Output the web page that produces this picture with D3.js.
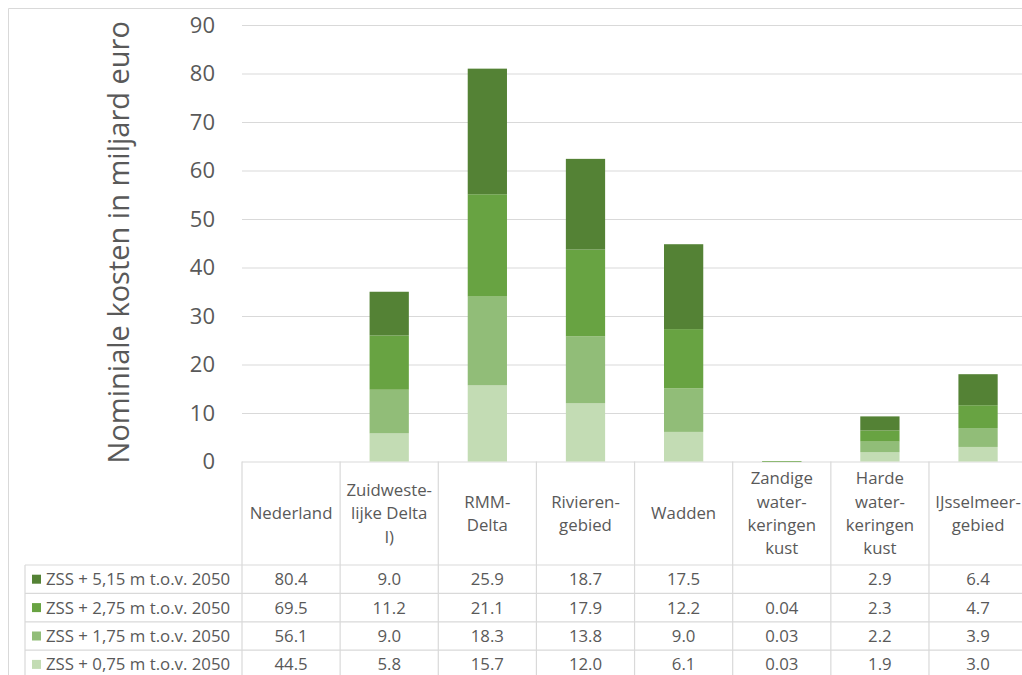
<!DOCTYPE html>
<html>
<head>
<meta charset="utf-8">
<script src="https://cdn.jsdelivr.net/npm/d3@7"></script>
<style>
  body { margin: 0; background: #fff; }
  svg { display: block; font-family: "Open Sans", "Noto Sans", sans-serif; }
  text { fill: #595959; }
</style>
</head>
<body>
<script>
// categories (header lines of the table)
var categories = ["Nederland", "Zuidwestelijke Delta", "RMM-Delta", "Rivierengebied", "Wadden",
  "Zandige waterkeringen kust", "Harde waterkeringen kust", "IJsselmeergebied"];
var headerLines = [
  ["Nederland"],
  ["Zuidweste-", "lijke Delta", "I)"],
  ["RMM-", "Delta"],
  ["Rivieren-", "gebied"],
  ["Wadden"],
  ["Zandige", "water-", "keringen", "kust"],
  ["Harde", "water-", "keringen", "kust"],
  ["IJsselmeer-", "gebied"]
];
// Nederland is only shown in the table, not as a bar
var plotted = [false, true, true, true, true, true, true, true];

var seriesNames = ["ZSS + 0,75 m t.o.v. 2050", "ZSS + 1,75 m t.o.v. 2050",
  "ZSS + 2,75 m t.o.v. 2050", "ZSS + 5,15 m t.o.v. 2050"];
var zss075 = [44.5, 5.8, 15.7, 12.0, 6.1, 0.03, 1.9, 3.0];
var zss175 = [56.1, 9.0, 18.3, 13.8, 9.0, 0.03, 2.2, 3.9];
var zss275 = [69.5, 11.2, 21.1, 17.9, 12.2, 0.04, 2.3, 4.7];
var zss515 = [80.4, 9.0, 25.9, 18.7, 17.5, null, 2.9, 6.4];
var labels075 = ["44.5", "5.8", "15.7", "12.0", "6.1", "0.03", "1.9", "3.0"];
var labels175 = ["56.1", "9.0", "18.3", "13.8", "9.0", "0.03", "2.2", "3.9"];
var labels275 = ["69.5", "11.2", "21.1", "17.9", "12.2", "0.04", "2.3", "4.7"];
var labels515 = ["80.4", "9.0", "25.9", "18.7", "17.5", "", "2.9", "6.4"];
var yTicks = [0, 10, 20, 30, 40, 50, 60, 70, 80, 90];

var colors = ["#c3dcb4", "#91bd78", "#68a342", "#548235"];

var W = 1022, H = 675;
var left = 242, colW = 98.14;
var yTop = 25, yBottom = 461.5;
var rowTop = 565, rowH = 28.4;
var grid = "#d9d9d9";
var cellFont = 16.8;

var svg = d3.select("body").append("svg").attr("width", W).attr("height", H);

var x = d3.scaleBand()
  .domain(categories)
  .range([left, left + colW * categories.length])
  .paddingInner(0.6)
  .paddingOuter(0.3);

var col = d3.scaleBand()
  .domain(categories)
  .range([left, left + colW * categories.length]);

var y = d3.scaleLinear().domain([0, 90]).range([yBottom, yTop]);

// outer border
svg.append("path")
  .attr("d", "M8.5," + H + "V8.5H" + W)
  .attr("fill", "none").attr("stroke", grid);

// gridlines
svg.append("g")
  .attr("transform", "translate(" + left + ",0)")
  .call(d3.axisLeft(y).tickValues(yTicks).tickSize(-(W - left)).tickFormat(""))
  .call(function(g) {
    g.select(".domain").remove();
    g.selectAll("line").attr("stroke", grid).attr("stroke-width", 1.2);
  });

// tick labels
svg.append("g")
  .attr("transform", "translate(" + left + ",0)")
  .call(d3.axisLeft(y).tickValues(yTicks).tickSize(0).tickPadding(27))
  .call(function(g) {
    g.select(".domain").remove();
    g.selectAll("text").attr("font-size", 22).attr("fill", "#595959")
      .attr("font-family", "Open Sans, sans-serif");
  });

// y title
svg.append("text")
  .attr("transform", "translate(129," + ((yTop + yBottom) / 2 - 1) + ") rotate(-90)")
  .attr("text-anchor", "middle")
  .attr("font-size", 29)
  .text("Nominiale kosten in miljard euro");

// stacked bars
var rows = categories.map(function(c, i) {
  return { cat: c, s0: zss075[i], s1: zss175[i], s2: zss275[i], s3: zss515[i] || 0, show: plotted[i] };
});
var stack = d3.stack().keys(["s0", "s1", "s2", "s3"]);
var layers = stack(rows.filter(function(d) { return d.show; }));

svg.append("g").selectAll("g")
  .data(layers)
  .enter().append("g")
  .attr("fill", function(d, i) { return colors[i]; })
  .selectAll("rect")
  .data(function(d) { return d.filter(function(s) { return s[1] - s[0] > 0; }); })
  .enter().append("rect")
  .attr("x", function(d) { return x(d.data.cat); })
  .attr("width", x.bandwidth())
  .attr("y", function(d) { return y(d[1]); })
  .attr("height", function(d) { return Math.max(y(d[0]) - y(d[1]), 0.5); });

// table
var nRows = seriesNames.length;
var tableBottom = H + 5;
var tg = svg.append("g").attr("fill", "none").attr("stroke", grid).attr("stroke-width", 1.2);

// vertical lines of columns
categories.forEach(function(c) {
  tg.append("line").attr("x1", col(c)).attr("x2", col(c)).attr("y1", yBottom).attr("y2", tableBottom);
});
tg.append("line").attr("x1", col(categories[7]) + colW).attr("x2", col(categories[7]) + colW)
  .attr("y1", yBottom).attr("y2", tableBottom);
// legend column left edge
tg.append("line").attr("x1", 25).attr("x2", 25).attr("y1", rowTop).attr("y2", tableBottom);
// horizontal lines
for (var r = 0; r <= nRows; r++) {
  tg.append("line").attr("x1", 25).attr("x2", W).attr("y1", rowTop + r * rowH).attr("y2", rowTop + r * rowH);
}

// header cells
var hdr = svg.append("g").attr("font-size", cellFont).attr("text-anchor", "middle");
headerLines.forEach(function(lines, i) {
  var cx = col(categories[i]) + colW / 2;
  var lh = 23.4;
  var mid = (yBottom + rowTop) / 2 + 6;
  lines.forEach(function(l, j) {
    hdr.append("text")
      .attr("x", cx)
      .attr("y", mid + (j - (lines.length - 1) / 2) * lh)
      .text(l);
  });
});

// value rows, top row = highest scenario
var tableRows = [
  { name: seriesNames[3], color: colors[3], labels: labels515 },
  { name: seriesNames[2], color: colors[2], labels: labels275 },
  { name: seriesNames[1], color: colors[1], labels: labels175 },
  { name: seriesNames[0], color: colors[0], labels: labels075 }
];
var vg = svg.append("g").attr("font-size", cellFont);
tableRows.forEach(function(row, r) {
  var cy = rowTop + r * rowH + rowH / 2;
  vg.append("rect").attr("x", 32).attr("y", cy - 4.5).attr("width", 9).attr("height", 9)
    .attr("fill", row.color);
  vg.append("text").attr("x", 46).attr("y", cy + 6).text(row.name);
  row.labels.forEach(function(v, i) {
    vg.append("text")
      .attr("x", col(categories[i]) + colW / 2)
      .attr("y", cy + 6)
      .attr("text-anchor", "middle")
      .text(v);
  });
});
</script>
</body>
</html>
